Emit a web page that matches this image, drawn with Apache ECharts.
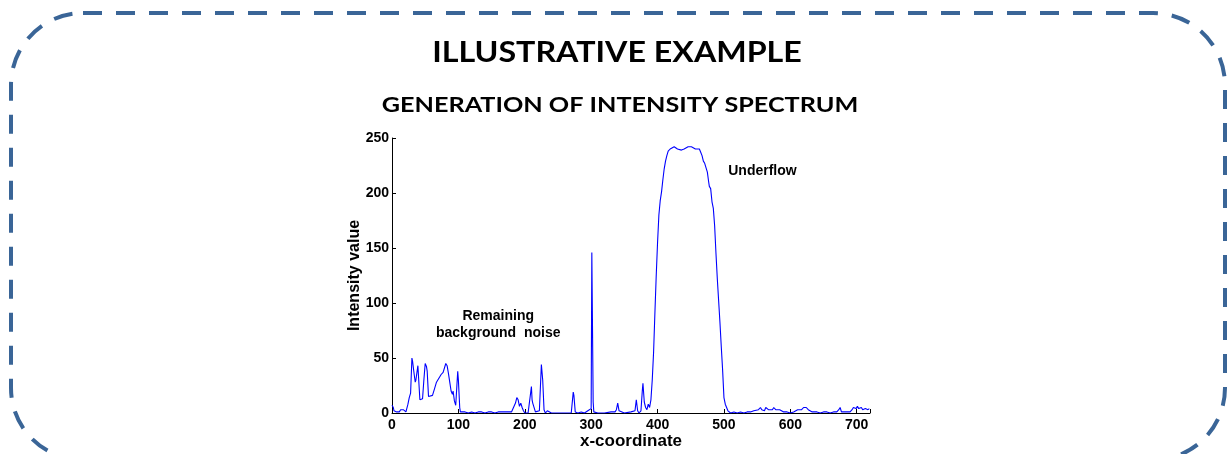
<!DOCTYPE html>
<html>
<head>
<meta charset="utf-8">
<title>Intensity spectrum</title>
<script src="https://cdn.jsdelivr.net/npm/echarts@6/dist/echarts.min.js"></script>
<style>
  html, body { margin: 0; padding: 0; background: #fff; }
  #main { width: 1227px; height: 454px; }
</style>
</head>
<body>
<div id="main"></div>
<script>
// x position (pixel column) and intensity
var xCoord = [0, 2, 3, 5, 7, 9, 11, 13, 15, 17, 19, 21, 23, 24, 26, 28, 30, 31, 33, 35, 36, 39, 40, 42, 44, 46, 48, 50, 52, 53, 55, 58, 61, 64, 67, 69, 72, 74, 76, 77, 79, 81, 83, 85, 87, 89, 91, 92, 94, 96, 97, 99, 100, 102, 103, 105, 110, 115, 120, 125, 130, 135, 140, 145, 148, 150, 155, 160, 165, 168, 170, 175, 180, 183, 186, 188, 190, 192, 194, 196, 198, 200, 205, 208, 210, 211, 212, 214, 216, 218, 222, 225, 227, 229, 231, 234, 236, 240, 250, 260, 270, 272, 273, 274, 276, 280, 285, 290, 295, 298, 300, 301, 302, 303, 304, 306, 310, 320, 330, 336, 338, 340, 342, 345, 350, 360, 366, 368, 370, 372, 375, 377, 378, 380, 382, 384, 386, 388, 390, 392, 394, 396, 398, 400, 402, 404, 406, 408, 410, 412, 414, 416, 419, 422, 425, 428, 430, 433, 436, 440, 443, 446, 448, 451, 454, 457, 460, 463, 465, 467, 469, 471, 473, 475, 477, 478, 480, 482, 484, 486, 488, 490, 492, 494, 496, 498, 500, 502, 504, 506, 508, 510, 515, 520, 525, 530, 535, 540, 545, 548, 552, 555, 557, 559, 561, 563, 565, 567, 570, 573, 575, 578, 581, 584, 587, 590, 595, 600, 605, 608, 611, 614, 617, 620, 622, 624, 627, 630, 633, 636, 640, 645, 650, 655, 660, 665, 668, 670, 673, 675, 677, 680, 685, 690, 693, 695, 697, 699, 701, 703, 705, 707, 709, 711, 713, 715, 717, 719, 720];
var intensity = [7, 5, 2, 3, 1, 2, 1, 3, 4, 3, 2, 1, 1, 8, 14, 18, 50, 47, 37, 28, 30, 43, 42, 12, 11, 13, 30, 45, 42, 38, 15, 15, 16, 22, 28, 30, 33, 35, 34, 37, 38, 45, 43, 36, 28, 20, 17, 20, 11, 7, 6, 38, 30, 5, 1, 1, 1, 0, 1, 0, 1, 1, 0, 1, 2, 1, 0, 1, 1, 2, 1, 1, 1, 2, 9, 14, 12, 6, 9, 5, 2, 0, 0, 1, 24, 12, 9, 10, 1, 0, 2, 44, 30, 3, 0, 2, 1, 0, 0, 0, 0, 1, 19, 16, 1, 0, 1, 0, 2, 1, 4, 146, 146, 10, 1, 1, 0, 0, 1, 1, 3, 9, 2, 1, 0, 1, 2, 12, 2, 0, 2, 20, 27, 10, 5, 3, 8, 5, 12, 30, 55, 91, 125, 155, 180, 193, 201, 212, 222, 229, 234, 238, 240, 241, 242, 242, 240, 239, 239, 240, 241, 242, 243, 242, 241, 240, 240, 240, 237, 234, 229, 227, 227, 219, 210, 206, 204, 192, 186, 170, 145, 122, 102, 82, 60, 39, 14, 8, 5, 2, 1, 0, 1, 0, 1, 0, 1, 1, 2, 1, 3, 5, 3, 4, 2, 5, 4, 3, 4, 3, 5, 3, 4, 3, 2, 1, 1, 0, 1, 2, 3, 4, 3, 5, 4, 5, 3, 2, 1, 0, 1, 0, 1, 1, 0, 1, 2, 1, 3, 5, 1, 0, 1, 1, 3, 5, 5, 4, 6, 4, 3, 5, 3, 2, 4, 5, 3, 4, 4];
var xTicks = [0, 100, 200, 300, 400, 500, 600, 700];
var yTicks = [0, 50, 100, 150, 200, 250];

var titleText = 'ILLUSTRATIVE EXAMPLE';
var subTitleText = 'GENERATION OF INTENSITY SPECTRUM';

// annotations: [x, y, text] in data units
var notes = [
    [160, 80, 'Remaining\nbackground  noise'],
    [558, 220, 'Underflow']
];

var chartDom = document.getElementById('main');
var myChart = echarts.init(chartDom, null, { renderer: 'canvas' });

var points = [];
for (var i = 0; i < xCoord.length; i++) {
    points.push([xCoord[i], intensity[i]]);
}

var axisFont = 'Liberation Sans, Arial, sans-serif';

var option = {
    animation: false,
    backgroundColor: '#ffffff',
    // fixed plot box, no squeezing for the labels
    grid: { left: 392, right: 357, top: 138, bottom: 41, containLabel: false, outerBoundsMode: 'none' },
    xAxis: {
        type: 'value',
        min: 0,
        max: 720,
        interval: 100,
        name: 'x-coordinate',
        nameLocation: 'middle',
        nameGap: 20,
        nameMoveOverlap: false,
        nameTextStyle: { fontFamily: axisFont, fontWeight: 'bold', fontSize: 17, color: '#000', verticalAlign: 'top' },
        axisLine: { show: true, lineStyle: { color: '#000', width: 1 } },
        axisTick: { show: true, inside: true, length: 4, lineStyle: { color: '#000' } },
        axisLabel: {
            fontFamily: axisFont, fontWeight: 'bold', fontSize: 14, color: '#000', margin: 5,
            formatter: function (v) { return xTicks.indexOf(v) >= 0 ? String(v) : ''; }
        },
        splitLine: { show: false }
    },
    yAxis: {
        type: 'value',
        min: 0,
        max: 250,
        interval: 50,
        name: 'Intensity value',
        nameLocation: 'middle',
        nameGap: 29,
        nameMoveOverlap: false,
        nameTextStyle: { fontFamily: axisFont, fontWeight: 'bold', fontSize: 16, color: '#000' },
        axisLine: { show: true, lineStyle: { color: '#000', width: 1 } },
        axisTick: { show: true, inside: true, length: 4, lineStyle: { color: '#000' } },
        axisLabel: {
            fontFamily: axisFont, fontWeight: 'bold', fontSize: 14, color: '#000', margin: 3,
            formatter: function (v) { return yTicks.indexOf(v) >= 0 ? String(v) : ''; }
        },
        splitLine: { show: false }
    },
    series: [{
        type: 'line',
        data: points,
        symbol: 'none',
        lineStyle: { color: '#0000ff', width: 1.1 },
        clip: true
    }],
    graphic: [
        {
            // dashed rounded frame, bottom edge runs just below the view
            type: 'rect',
            shape: { x: 11, y: 13, width: 1214, height: 447, r: 72 },
            style: { fill: 'none', stroke: '#3a6597', lineWidth: 4, lineDash: [19, 14] },
            silent: true
        },
        {
            type: 'text',
            x: 617, y: 53, scaleX: 1.15,
            style: {
                text: titleText, fill: '#000', align: 'center', verticalAlign: 'middle',
                font: 'bold 28px Lato, "Open Sans", sans-serif'
            }
        },
        {
            type: 'text',
            x: 620, y: 105, scaleX: 1.2,
            style: {
                text: subTitleText, fill: '#000', align: 'center', verticalAlign: 'middle',
                font: 'bold 21px Lato, "Open Sans", sans-serif'
            }
        }
    ]
};

myChart.setOption(option);

// place the notes from data coordinates
var noteGraphics = [];
for (var k = 0; k < notes.length; k++) {
    var p = myChart.convertToPixel({ gridIndex: 0 }, [notes[k][0], notes[k][1]]);
    noteGraphics.push({
        type: 'text',
        x: p[0], y: p[1],
        style: {
            text: notes[k][2], fill: '#000', align: 'center', verticalAlign: 'middle',
            font: 'bold 14px "Liberation Sans", Arial, sans-serif', lineHeight: 17
        }
    });
}
myChart.setOption({ graphic: option.graphic.concat(noteGraphics) });
</script>
</body>
</html>
